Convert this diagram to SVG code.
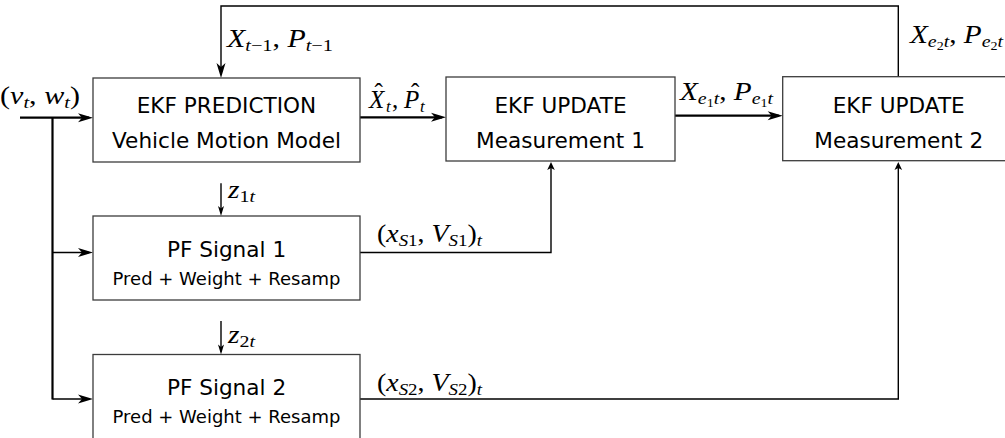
<svg xmlns="http://www.w3.org/2000/svg" width="1005" height="438" viewBox="0 0 1005 438">
<style>
.box{fill:#fff;stroke:#3c3c3c;stroke-width:1.3}
.t1{font-family:"DejaVu Sans",sans-serif;font-size:21.6px;fill:#000;text-anchor:middle}
.t2{font-family:"DejaVu Sans",sans-serif;font-size:18px;fill:#000;text-anchor:middle}
.m{font-family:"Liberation Serif","Times New Roman",serif;font-size:25px;fill:#000;font-style:italic}
.u{font-style:normal}
.s{font-size:17px}
.ss{font-size:12px}
.thick{fill:none;stroke:#000;stroke-width:2.2}
.mid{fill:none;stroke:#000;stroke-width:1.7}
.thin{fill:none;stroke:#000;stroke-width:1.4}
</style>
<defs>
<marker id="ah" markerUnits="userSpaceOnUse" markerWidth="16" markerHeight="10" refX="11" refY="4.5" orient="auto" overflow="visible"><path d="M0,0 L15,4.5 L0,9 L4,4.5 z" fill="#000"/></marker>
<marker id="as" markerUnits="userSpaceOnUse" markerWidth="11" markerHeight="7" refX="7" refY="3" orient="auto" overflow="visible"><path d="M0,0 L10,3 L0,6 L2.5,3 z" fill="#000"/></marker>
<marker id="at" markerUnits="userSpaceOnUse" markerWidth="9" markerHeight="8" refX="5" refY="3.8" orient="auto" overflow="visible"><path d="M0,0 L8,3.8 L0,7.6 L2,3.8 z" fill="#000"/></marker>
</defs>

<g id="connectors">
<path class="thick" d="M20,117.7 H89" marker-end="url(#ah)"/>
<path class="thick" d="M52.5,117.7 V399.5"/>
<path class="mid" d="M52.5,252.5 H89" marker-end="url(#ah)"/>
<path class="mid" d="M52.5,399 H89" marker-end="url(#ah)"/>
<path class="thick" d="M360,117.3 H442" marker-end="url(#ah)"/>
<path class="thick" d="M675,115.7 H778.7" marker-end="url(#ah)"/>
<path class="thin" d="M898.3,76.7 V6 H221 V74" marker-end="url(#ah)"/>
<path class="thin" d="M360,252.5 H551 V165" marker-end="url(#at)"/>
<path class="thin" d="M360,399 H898.3 V165" marker-end="url(#at)"/>
<path class="thin" d="M221,183.3 V213" marker-end="url(#as)"/>
<path class="thin" d="M221,321 V351.5" marker-end="url(#as)"/>
</g>

<g id="ekf-prediction">
<rect class="box" x="93" y="78" width="267" height="84"/>
<text class="t1" x="226.5" y="113">EKF PREDICTION</text>
<text class="t1" x="226.5" y="147.5">Vehicle Motion Model</text>
</g>
<g id="ekf-update-1">
<rect class="box" x="446" y="77" width="229" height="84"/>
<text class="t1" x="560.5" y="113">EKF UPDATE</text>
<text class="t1" x="560.5" y="147.5">Measurement 1</text>
</g>
<g id="ekf-update-2">
<rect class="box" x="782.7" y="76.7" width="232" height="84"/>
<text class="t1" x="898.7" y="113">EKF UPDATE</text>
<text class="t1" x="898.7" y="147.5">Measurement 2</text>
</g>
<g id="pf-signal-1">
<rect class="box" x="93" y="216" width="267" height="84"/>
<text class="t1" x="226.5" y="256.5">PF Signal 1</text>
<text class="t2" x="226.5" y="284.5">Pred + Weight + Resamp</text>
</g>
<g id="pf-signal-2">
<rect class="box" x="93" y="354.5" width="267" height="85"/>
<text class="t1" x="226.5" y="395">PF Signal 2</text>
<text class="t2" x="226.5" y="422.5">Pred + Weight + Resamp</text>
</g>

<g id="labels">
<text class="m" x="0" y="104" textLength="80" lengthAdjust="spacingAndGlyphs"><tspan class="u">(</tspan>v<tspan class="s" dy="4">t</tspan><tspan class="u" dy="-4">, </tspan>w<tspan class="s" dy="4">t</tspan><tspan class="u" dy="-4">)</tspan></text>
<text class="m" x="227" y="47" textLength="106" lengthAdjust="spacingAndGlyphs">X<tspan class="s" dy="4">t<tspan class="u">−1</tspan></tspan><tspan class="u" dy="-4">, </tspan>P<tspan class="s" dy="4">t<tspan class="u">−1</tspan></tspan></text>
<text class="m" y="108"><tspan x="369">X</tspan><tspan class="u" x="374.5" y="100.5">ˆ</tspan><tspan class="s" x="386" y="112">t</tspan><tspan class="u" x="392" y="108">,</tspan><tspan x="404">P</tspan><tspan class="u" x="411" y="100.5">ˆ</tspan><tspan class="s" x="420" y="112">t</tspan></text>
<text class="m" x="680" y="99.5" textLength="93" lengthAdjust="spacingAndGlyphs">X<tspan class="s" dy="4">e</tspan><tspan class="ss u" dy="3">1</tspan><tspan class="s" dy="-3">t</tspan><tspan class="u" dy="-4">, </tspan>P<tspan class="s" dy="4">e</tspan><tspan class="ss u" dy="3">1</tspan><tspan class="s" dy="-3">t</tspan></text>
<text class="m" x="910" y="43" textLength="93" lengthAdjust="spacingAndGlyphs">X<tspan class="s" dy="4">e</tspan><tspan class="ss u" dy="3">2</tspan><tspan class="s" dy="-3">t</tspan><tspan class="u" dy="-4">, </tspan>P<tspan class="s" dy="4">e</tspan><tspan class="ss u" dy="3">2</tspan><tspan class="s" dy="-3">t</tspan></text>
<text class="m" x="228" y="198" textLength="27" lengthAdjust="spacingAndGlyphs">z<tspan class="s" dy="4"><tspan class="u">1</tspan>t</tspan></text>
<text class="m" x="228" y="343" textLength="27" lengthAdjust="spacingAndGlyphs">z<tspan class="s" dy="4"><tspan class="u">2</tspan>t</tspan></text>
<text class="m" x="377" y="242" textLength="105" lengthAdjust="spacingAndGlyphs"><tspan class="u">(</tspan>x<tspan class="s" dy="4">S<tspan class="u">1</tspan></tspan><tspan class="u" dy="-4">, </tspan>V<tspan class="s" dy="4">S<tspan class="u">1</tspan></tspan><tspan class="u" dy="-4">)</tspan><tspan class="s" dy="4">t</tspan></text>
<text class="m" x="377" y="390.5" textLength="105" lengthAdjust="spacingAndGlyphs"><tspan class="u">(</tspan>x<tspan class="s" dy="4">S<tspan class="u">2</tspan></tspan><tspan class="u" dy="-4">, </tspan>V<tspan class="s" dy="4">S<tspan class="u">2</tspan></tspan><tspan class="u" dy="-4">)</tspan><tspan class="s" dy="4">t</tspan></text>
</g>
</svg>
